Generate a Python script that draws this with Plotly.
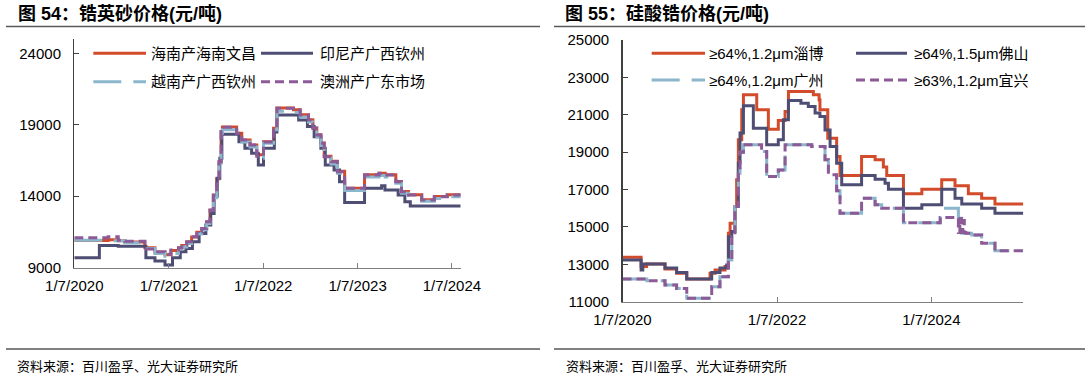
import plotly.graph_objects as go

W, H = 1086, 375
FONT = "Liberation Sans, Arial, Noto Sans CJK SC, sans-serif"

RED = "#D24B2A"
NAVY = "#4E4D73"
LBLUE = "#8BB6CB"
PURPLE = "#8C5A97"

# ---------------- 图54 锆英砂价格 (元/吨) ----------------
z_hn_dates = ["2020-01-07", "2020-05-17", "2020-06-25", "2020-07-21", "2020-10-06", "2020-11-14",
              "2020-12-23", "2021-01-15", "2021-02-13", "2021-02-26", "2021-03-17", "2021-04-05",
              "2021-04-25", "2021-05-14", "2021-06-02", "2021-06-15", "2021-06-28", "2021-07-11",
              "2021-07-20", "2021-07-28", "2021-08-02", "2021-09-26", "2021-10-16", "2021-11-17",
              "2021-12-13", "2022-01-08", "2022-02-16", "2022-03-01", "2022-05-04", "2022-05-30",
              "2022-07-01", "2022-07-18", "2022-08-02", "2022-08-18", "2022-08-31", "2022-09-26",
              "2022-10-21", "2022-11-18", "2023-02-03", "2023-03-31", "2023-04-24", "2023-06-04",
              "2023-06-26", "2023-07-23", "2023-09-12", "2023-10-31", "2023-12-20", "2024-02-10"]
z_hn_vals = [10900, 10950, 10880, 10800, 10400, 10080,
             9900, 10200, 10380, 10560, 10800, 11150,
             11480, 11730, 12200, 13020, 14070, 15230,
             16400, 18500, 18840, 18410, 17940, 17590,
             16900, 17810, 18760, 20170, 20050, 19700,
             19350, 18780, 18300, 17720, 16790, 16440,
             15740, 14560, 15500, 15610, 15500, 15030,
             14330, 14100, 13760, 13980, 14110, 14110]

z_id_dates = ["2020-01-07", "2020-04-13", "2020-06-25", "2020-10-10", "2020-11-14", "2020-12-23",
              "2021-01-21", "2021-02-20", "2021-03-14", "2021-04-08", "2021-05-04", "2021-05-30",
              "2021-06-18", "2021-07-01", "2021-07-13", "2021-07-23", "2021-07-31", "2021-10-05",
              "2021-10-28", "2021-11-23", "2021-12-19", "2022-01-08", "2022-02-19", "2022-03-01",
              "2022-05-24", "2022-06-27", "2022-07-23", "2022-08-18", "2022-09-04", "2022-10-08",
              "2022-10-29", "2022-11-18", "2023-02-03", "2023-04-10", "2023-04-23", "2023-06-13",
              "2023-07-09", "2023-07-30", "2024-02-10"]
z_id_vals = [9700, 10560, 10500, 9700, 9470, 9190,
             9700, 10120, 10350, 10820, 11400, 11980,
             12800, 14000, 15250, 16650, 18330, 17820,
             17350, 17000, 16190, 17350, 18500, 19680,
             19330, 18870, 18170, 17350, 16190, 15840,
             15020, 13570, 14550, 14740, 14440, 14090,
             13620, 13320, 13320]

z_vn_dates = ["2020-01-07", "2020-05-17", "2020-07-21", "2020-10-06", "2020-11-14", "2020-12-23",
              "2021-01-15", "2021-02-13", "2021-02-26", "2021-03-17", "2021-04-05", "2021-04-25",
              "2021-05-14", "2021-06-02", "2021-06-15", "2021-06-28", "2021-07-11", "2021-07-20",
              "2021-07-28", "2021-08-02", "2021-09-26", "2021-10-16", "2021-11-17", "2021-12-13",
              "2022-01-08", "2022-02-16", "2022-03-01", "2022-05-04", "2022-05-30", "2022-07-01",
              "2022-07-18", "2022-08-02", "2022-08-18", "2022-08-31", "2022-09-26", "2022-10-21",
              "2022-11-18", "2023-02-03", "2023-03-31", "2023-04-24", "2023-06-04", "2023-06-26",
              "2023-07-23", "2023-09-12", "2023-10-31", "2023-12-20", "2024-02-10"]
z_vn_vals = [10920, 10880, 10750, 10350, 10000, 9800,
             10000, 10300, 10450, 10700, 10950, 11350,
             11650, 12100, 12900, 13900, 15100, 16300,
             18400, 18650, 18250, 17800, 17450, 16650,
             17700, 18650, 19950, 19850, 19550, 19200,
             18650, 18150, 17550, 16650, 16250, 15600,
             14400, 15350, 15450, 15350, 14900, 14200,
             13950, 13650, 13850, 13970, 13970]

z_au_dates = ["2020-01-07", "2020-05-17", "2020-06-25", "2020-07-21", "2020-10-06", "2020-11-14",
              "2020-12-23", "2021-01-15", "2021-02-13", "2021-02-26", "2021-03-17", "2021-04-05",
              "2021-04-25", "2021-05-14", "2021-06-02", "2021-06-15", "2021-06-28", "2021-07-11",
              "2021-07-20", "2021-07-28", "2021-08-02", "2021-09-26", "2021-10-16", "2021-11-17",
              "2021-12-13", "2022-01-08", "2022-02-16", "2022-03-01", "2022-05-04", "2022-05-30",
              "2022-07-01", "2022-07-18", "2022-08-02", "2022-08-18", "2022-08-31", "2022-09-26",
              "2022-10-21", "2022-11-18", "2023-02-03", "2023-03-31", "2023-04-24", "2023-06-04",
              "2023-06-26", "2023-07-23", "2023-09-12", "2023-10-31", "2023-12-20", "2024-02-10"]
z_au_vals = [11100, 11170, 10920, 10850, 10310, 10120,
             9940, 10230, 10400, 10590, 10820, 11170,
             11500, 11750, 12220, 13040, 14090, 15250,
             16420, 18520, 18820, 18400, 17930, 17580,
             16800, 17800, 18750, 20150, 20030, 19680,
             19330, 18750, 18280, 17700, 16770, 16420,
             15720, 14550, 15490, 15600, 15490, 15020,
             14320, 14090, 13740, 13970, 14090, 14090]

left_tick_dates = ["2020-01-07", "2021-01-07", "2022-01-07", "2023-01-07", "2024-01-07"]
left_tick_text = ["1/7/2020", "1/7/2021", "1/7/2022", "1/7/2023", "1/7/2024"]
left_y_ticks = [9000, 14000, 19000, 24000]
left_y_text = ["9000", "14000", "19000", "24000"]

# ---------------- 图55 硅酸锆价格 (元/吨) ----------------
s_zb_dates = ["2020-01-07", "2020-04-04", "2020-04-30", "2020-07-26", "2020-09-19", "2020-11-06",
              "2021-02-24", "2021-03-20", "2021-05-06", "2021-05-22", "2021-05-30", "2021-06-22",
              "2021-06-30", "2021-07-08", "2021-07-24", "2021-08-01", "2021-10-03", "2021-11-27",
              "2022-01-13", "2022-02-14", "2022-03-02", "2022-06-28", "2022-07-25", "2022-07-29",
              "2022-09-04", "2022-10-16", "2022-11-01", "2023-02-11", "2023-04-16", "2023-05-25",
              "2023-06-10", "2023-08-28", "2023-11-23", "2024-02-25", "2024-04-28", "2024-06-30",
              "2024-09-01", "2024-11-03", "2025-03-17"]
s_zb_vals = [13380, 12880, 13020, 12750, 12520, 12220,
             12520, 12700, 12880, 14660, 15200, 16090,
             17520, 19660, 21270, 22070, 21270, 20230,
             20690, 21180, 22250, 22070, 21800, 21270,
             19750, 18770, 17750, 18770, 18590, 18200,
             17750, 16770, 17020, 17520, 17200, 16770,
             16540, 16230, 16230]

s_fs_dates = ["2020-01-07", "2020-04-04", "2020-04-12", "2020-07-26", "2020-09-19", "2020-11-06",
              "2021-03-04", "2021-04-12", "2021-05-14", "2021-05-22", "2021-06-07", "2021-06-22",
              "2021-07-08", "2021-07-16", "2021-08-01", "2021-09-17", "2021-11-19", "2022-01-13",
              "2022-02-06", "2022-03-02", "2022-04-30", "2022-06-04", "2022-07-06", "2022-07-29",
              "2022-08-22", "2022-09-15", "2022-10-16", "2022-11-09", "2023-02-11", "2023-04-16",
              "2023-06-02", "2023-06-18", "2023-08-28", "2023-11-23", "2024-02-25", "2024-04-28",
              "2024-05-30", "2024-09-01", "2024-11-03", "2025-03-17"]
s_fs_vals = [13230, 12700, 13020, 12800, 12560, 12220,
             12560, 12800, 12970, 14480, 14750, 16090,
             18410, 20020, 21480, 20280, 19390, 19660,
             20730, 21770, 21620, 21440, 21090, 20910,
             20190, 19300, 18410, 17250, 17750, 17550,
             17340, 17020, 16000, 16180, 17020, 16540,
             16230, 16000, 15730, 15730]

s_gz_dates = ["2020-01-07", "2020-05-01", "2020-07-26", "2020-09-19", "2020-11-06", "2021-03-04",
              "2021-04-12", "2021-05-22", "2021-06-07", "2021-06-22", "2021-07-08", "2021-07-16",
              "2021-08-01", "2021-10-26", "2021-11-19", "2022-01-13", "2022-02-14", "2022-06-20",
              "2022-08-22", "2022-09-07", "2022-10-16", "2022-11-01", "2023-02-11", "2023-04-16",
              "2023-05-17", "2023-08-28", "2024-02-18", "2024-05-14", "2024-05-30", "2024-07-16",
              "2024-09-01", "2024-11-03", "2025-03-17"]
s_gz_vals = [12220, 12120, 11890, 11700, 11180, 11800,
             12340, 13230, 14480, 16090, 17870, 19000,
             19390, 19030, 17700, 18050, 19390, 19300,
             18590, 17790, 16930, 15730, 16540, 16180,
             16000, 15230, 16000, 15470, 14660, 14570,
             14130, 13720, 13720]

s_yx_dates = ["2020-01-07", "2020-05-01", "2020-07-26", "2020-09-19", "2020-11-06", "2021-03-04",
              "2021-04-12", "2021-05-22", "2021-06-07", "2021-06-22", "2021-07-08", "2021-07-16",
              "2021-08-01", "2021-10-26", "2021-11-19", "2022-01-13", "2022-02-14", "2022-06-20",
              "2022-08-22", "2022-09-07", "2022-10-16", "2022-11-01", "2023-02-11", "2023-04-16",
              "2023-05-17", "2023-08-28", "2024-02-18", "2024-05-14", "2024-05-21", "2024-05-28",
              "2024-06-04", "2024-06-11", "2024-06-18", "2024-07-16", "2024-09-01", "2024-11-03",
              "2025-03-17"]
s_yx_vals = [12220, 12120, 11890, 11700, 11180, 11800,
             12340, 13230, 14480, 16090, 17870, 19000,
             19390, 19030, 17700, 18050, 19390, 19300,
             18590, 17790, 16930, 15730, 16540, 16180,
             16000, 15230, 15500, 14700, 15450, 14700,
             15350, 14700, 14660, 14570, 14130, 13720,
             13720]

right_tick_dates = ["2020-01-07", "2022-01-07", "2024-01-07"]
right_tick_text = ["1/7/2020", "1/7/2022", "1/7/2024"]
right_y_ticks = [11000, 13000, 15000, 17000, 19000, 21000, 23000, 25000]
right_y_text = ["11000", "13000", "15000", "17000", "19000", "21000", "23000", "25000"]

# ---------------- legends / texts ----------------
left_names = ["海南产海南文昌", "印尼产广西钦州", "越南产广西钦州", "澳洲产广东市场"]
right_names = ["≥64%,1.2μm淄博", "≥64%,1.5μm佛山", "≥64%,1.2μm广州", "≥63%,1.2μm宜兴"]
title_left = "图 54：锆英砂价格(元/吨)"
title_right = "图 55：硅酸锆价格(元/吨)"
source_text = "资料来源：百川盈孚、光大证券研究所"

STYLES = [
    dict(color=RED, width=3, dash="solid"),
    dict(color=NAVY, width=3, dash="solid"),
    dict(color=LBLUE, width=3, dash="28px,12px"),
    dict(color=PURPLE, width=3, dash="9px,5px"),
]


def px(x):
    return x / W


def py(y):
    return 1 - y / H


fig = go.Figure()

left_series = [(z_hn_dates, z_hn_vals), (z_id_dates, z_id_vals),
               (z_vn_dates, z_vn_vals), (z_au_dates, z_au_vals)]
right_series = [(s_zb_dates, s_zb_vals), (s_fs_dates, s_fs_vals),
                (s_gz_dates, s_gz_vals), (s_yx_dates, s_yx_vals)]

for (d, v), st, nm in zip(left_series, STYLES, left_names):
    fig.add_trace(go.Scatter(x=d, y=v, mode="lines", name=nm, showlegend=False,
                             line=dict(color=st["color"], width=st["width"], dash=st["dash"], shape="hv"),
                             xaxis="x", yaxis="y", hoverinfo="skip"))
for (d, v), st, nm in zip(right_series, STYLES, right_names):
    fig.add_trace(go.Scatter(x=d, y=v, mode="lines", name=nm, showlegend=False,
                             line=dict(color=st["color"], width=st["width"], dash=st["dash"], shape="hv"),
                             xaxis="x2", yaxis="y2", hoverinfo="skip"))

axis_common = dict(showgrid=False, zeroline=False, showline=True, ticks="inside", ticklen=5,
                   automargin=False, tickfont=dict(family=FONT, size=15, color="#000000"))

fig.update_layout(
    width=W, height=H, margin=dict(l=0, r=0, t=0, b=0, autoexpand=False),
    paper_bgcolor="white", plot_bgcolor="white", showlegend=False,
    font=dict(family=FONT, color="#000000"),
    xaxis=dict(domain=[px(74.3), px(460.7)], anchor="y", type="date",
               range=["2020-01-07", "2024-02-10"], tickmode="array",
               tickvals=left_tick_dates, ticktext=left_tick_text,
               linecolor="#7f7f7f", tickcolor="#7f7f7f", linewidth=1.3,
               ticklabelstandoff=4, **axis_common),
    yaxis=dict(domain=[py(267.7), py(39)], anchor="x", range=[9000, 25000],
               tickmode="array", tickvals=left_y_ticks, ticktext=left_y_text,
               linecolor="#404040", tickcolor="#404040", linewidth=1.3,
               ticklabelstandoff=9, **axis_common),
    xaxis2=dict(domain=[px(622.5), px(1023.3)], anchor="y2", type="date",
                range=["2020-01-07", "2025-03-17"], tickmode="array",
                tickvals=right_tick_dates, ticktext=right_tick_text,
                linecolor="#7f7f7f", tickcolor="#7f7f7f", linewidth=1.3,
                ticklabelstandoff=4, **axis_common),
    yaxis2=dict(domain=[py(301.7), py(40)], anchor="x2", range=[11000, 25000],
                tickmode="array", tickvals=right_y_ticks, ticktext=right_y_text,
                linecolor="#404040", tickcolor="#404040", linewidth=1.3,
                ticklabelstandoff=9, **axis_common),
)

shapes = []
annotations = []

# header / footer rules
for x0, x1 in [(6, 540), (554, 1085)]:
    shapes.append(dict(type="line", xref="paper", yref="paper", x0=px(x0), x1=px(x1),
                       y0=py(26.5), y1=py(26.5), line=dict(color="#595959", width=1.3)))
    shapes.append(dict(type="line", xref="paper", yref="paper", x0=px(x0), x1=px(x1),
                       y0=py(349), y1=py(349), line=dict(color="#808080", width=2.2)))

for tx, title in [(16, title_left), (563, title_right)]:
    annotations.append(dict(text="<b>" + title + "</b>", xref="paper", yref="paper", x=px(tx), y=py(13.5),
                            xanchor="left", yanchor="middle", showarrow=False,
                            font=dict(family=FONT, size=18, color="#000000")))
for tx in [15, 564]:
    annotations.append(dict(text=source_text, xref="paper", yref="paper", x=px(tx), y=py(366.5),
                            xanchor="left", yanchor="middle", showarrow=False,
                            font=dict(family=FONT, size=13, color="#000000")))

# legends (manual layout)
left_leg = [(93.3, 146, 53.3, 149), (261, 313, 53.3, 318), (93.3, 146, 81.7, 149), (261, 313, 81.7, 318)]
right_leg = [(651.7, 705, 53.3, 707), (856, 907, 53.3, 912), (651.7, 705, 80, 707), (856, 907, 80, 912)]
for legs, names in [(left_leg, left_names), (right_leg, right_names)]:
    for (x0, x1, yy, tx), st, nm in zip(legs, STYLES, names):
        shapes.append(dict(type="line", xref="paper", yref="paper", x0=px(x0), x1=px(x1),
                           y0=py(yy), y1=py(yy),
                           line=dict(color=st["color"], width=st["width"], dash=st["dash"])))
        annotations.append(dict(text=nm, xref="paper", yref="paper", x=px(tx), y=py(yy),
                                xanchor="left", yanchor="middle", showarrow=False,
                                font=dict(family=FONT, size=15, color="#000000")))

fig.update_layout(shapes=shapes, annotations=annotations)
fig.write_html("out.html",
               config={"displayModeBar": False, "staticPlot": True},
               post_script="document.body.style.margin='0px';document.body.style.overflow='hidden';")
